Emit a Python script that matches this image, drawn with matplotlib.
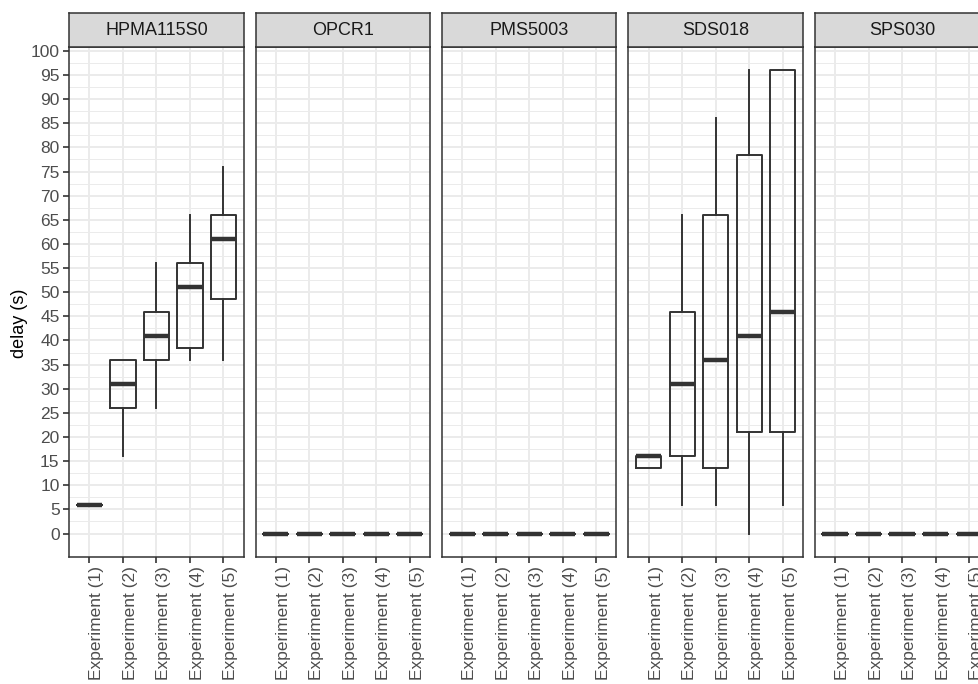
import matplotlib.pyplot as plt
import numpy as np

plt.rcParams['font.family'] = ['Liberation Sans', 'DejaVu Sans']

sensors = ["HPMA115S0", "OPCR1", "PMS5003", "SDS018", "SPS030"]
experiments = ["Experiment (1)", "Experiment (2)", "Experiment (3)", "Experiment (4)", "Experiment (5)"]

# box stats per sensor: lower whisker, q1, median, q3, upper whisker
whislo = {
    "HPMA115S0": [6, 16, 26, 36, 36],
    "OPCR1": [0, 0, 0, 0, 0],
    "PMS5003": [0, 0, 0, 0, 0],
    "SDS018": [13.5, 6, 6, 0, 6],
    "SPS030": [0, 0, 0, 0, 0],
}
q1 = {
    "HPMA115S0": [6, 26, 36, 38.5, 48.5],
    "OPCR1": [0, 0, 0, 0, 0],
    "PMS5003": [0, 0, 0, 0, 0],
    "SDS018": [13.5, 16, 13.5, 21, 21],
    "SPS030": [0, 0, 0, 0, 0],
}
med = {
    "HPMA115S0": [6, 31, 41, 51, 61],
    "OPCR1": [0, 0, 0, 0, 0],
    "PMS5003": [0, 0, 0, 0, 0],
    "SDS018": [16, 31, 36, 41, 46],
    "SPS030": [0, 0, 0, 0, 0],
}
q3 = {
    "HPMA115S0": [6, 36, 46, 56, 66],
    "OPCR1": [0, 0, 0, 0, 0],
    "PMS5003": [0, 0, 0, 0, 0],
    "SDS018": [16, 46, 66, 78.5, 96],
    "SPS030": [0, 0, 0, 0, 0],
}
whishi = {
    "HPMA115S0": [6, 36, 56, 66, 76],
    "OPCR1": [0, 0, 0, 0, 0],
    "PMS5003": [0, 0, 0, 0, 0],
    "SDS018": [16, 66, 86, 96, 96],
    "SPS030": [0, 0, 0, 0, 0],
}

W, H = 979, 684
fig = plt.figure(figsize=(W / 100, H / 100), dpi=100)

dark = "#333333"
grid_major = "#EBEBEB"
pw, step = 174.3, 186.4
top_px, bot_px, strip_top = 47.0, 556.7, 13.3

for i, s in enumerate(sensors):
    left = 69.3 + i * step
    ax = fig.add_axes([left / W, (H - bot_px) / H, pw / W, (bot_px - top_px) / H])
    stats = []
    for j in range(len(experiments)):
        stats.append(dict(whislo=whislo[s][j], q1=q1[s][j], med=med[s][j],
                          q3=q3[s][j], whishi=whishi[s][j], label=experiments[j]))
    ax.bxp(stats, positions=np.arange(1, 6), widths=0.75, showfliers=False,
           showcaps=False, patch_artist=False,
           boxprops=dict(color=dark, linewidth=1.4),
           whiskerprops=dict(color=dark, linewidth=1.4),
           medianprops=dict(color=dark, linewidth=3.2, solid_capstyle='butt'))
    ax.set_xlim(0.4, 5.6)
    ax.set_ylim(-4.8, 100.8)
    ax.set_yticks(np.arange(0, 101, 5))
    ax.set_yticks(np.arange(2.5, 100, 5), minor=True)
    ax.set_xticks(np.arange(1, 6))
    ax.set_xticklabels(experiments, rotation=90, fontsize=12.5, color="#4D4D4D",
                       ha='left', va='top')
    ax.grid(True, which='major', color=grid_major, linewidth=1.4)
    ax.grid(True, which='minor', axis='y', color=grid_major, linewidth=0.7)
    ax.set_axisbelow(True)
    ax.tick_params(axis='x', which='major', length=4, width=1.2, color=dark, pad=3)
    ax.tick_params(axis='y', which='minor', length=0)
    if i == 0:
        ax.tick_params(axis='y', which='major', length=4, width=1.2, color=dark,
                       labelsize=12.5, labelcolor="#4D4D4D", pad=3)
    else:
        ax.tick_params(axis='y', which='major', length=0, labelleft=False)
    for sp in ax.spines.values():
        sp.set_color(dark)
        sp.set_linewidth(1.1)

    sax = fig.add_axes([left / W, (H - top_px) / H, pw / W, (top_px - strip_top) / H])
    sax.set_facecolor("#D9D9D9")
    sax.set_xticks([])
    sax.set_yticks([])
    for sp in sax.spines.values():
        sp.set_color(dark)
        sp.set_linewidth(1.1)
    sax.text(0.5, 0.5, s, ha='center', va='center', fontsize=13, color="#1A1A1A",
             transform=sax.transAxes)

fig.text(19 / W, 1 - 323 / H, "delay (s)", rotation=90, ha='center', va='center',
         fontsize=13, color="black")

fig.savefig("out.png", dpi=100)
